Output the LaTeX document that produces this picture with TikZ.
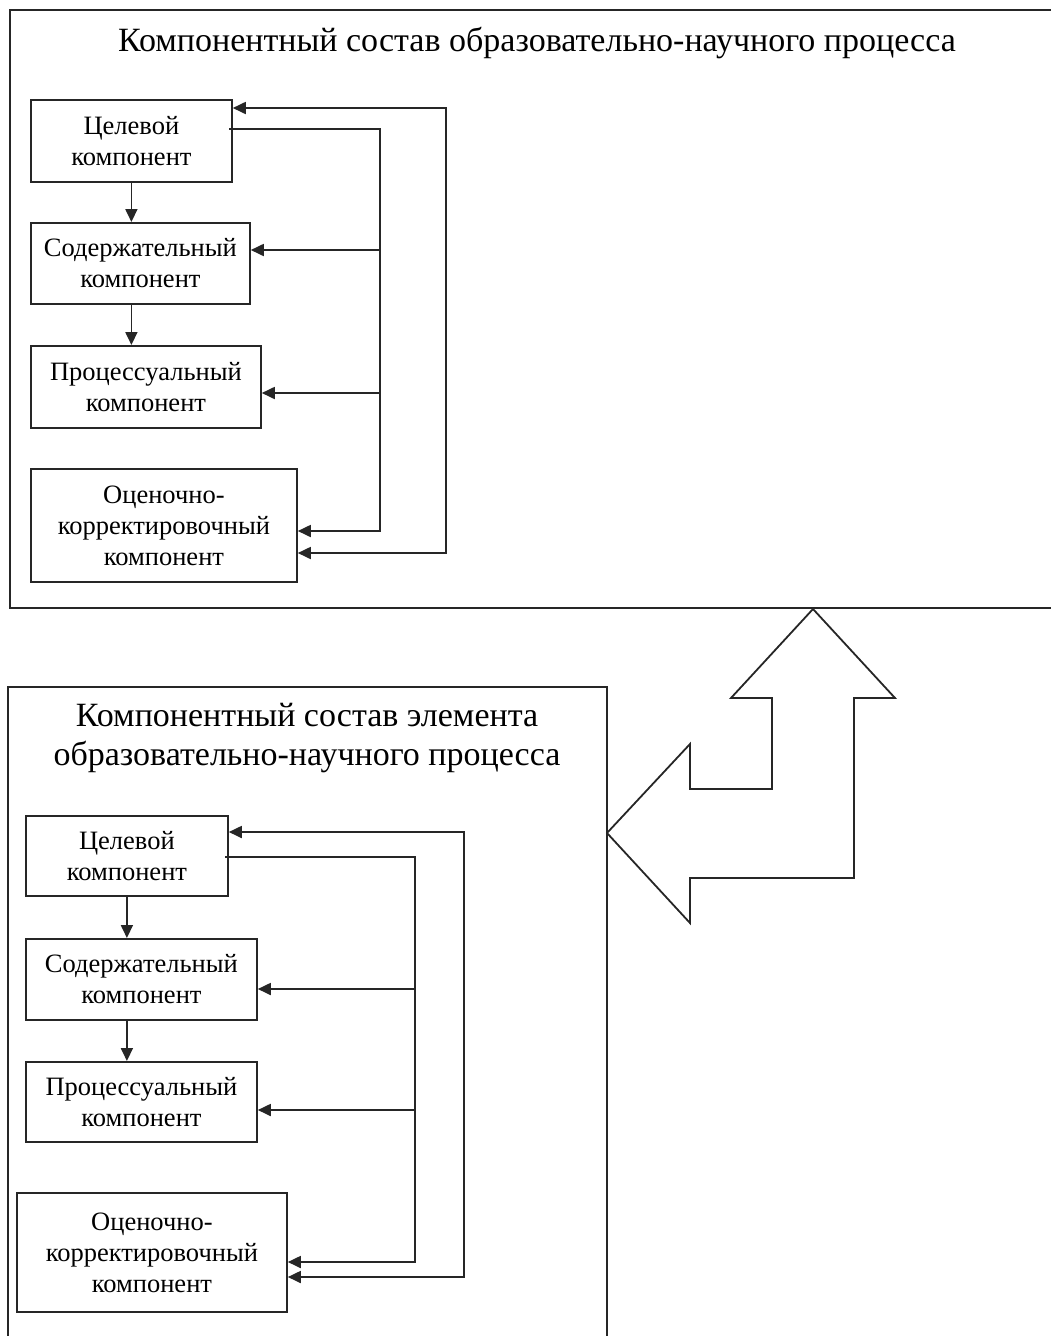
\documentclass[tikz,border=0pt]{standalone}
\usepackage{fontspec}
\setmainfont{Liberation Serif}
\usetikzlibrary{arrows.meta,calc}
\begin{document}
\begin{tikzpicture}[x=1pt,y=-1pt,
  ln/.style={line width=1.8pt, draw=black!85},
  cbox/.style={ln, rectangle, align=center, anchor=north west, inner sep=0pt, font=\fontsize{26.5}{31}\selectfont},
  arr/.style={ln, -{Triangle[length=13pt,width=12pt]}},
  darr/.style={ln, {Triangle[length=13pt,width=12pt]}-{Triangle[length=13pt,width=12pt]}},
  ttl/.style={align=center, inner sep=0pt, font=\fontsize{34}{39}\selectfont},
]
\useasboundingbox (0,0) rectangle (1051,1336);

% ---------- upper frame ----------
\draw[ln] (1051,10) -- (10,10) -- (10,608) -- (1051,608);
\node[ttl] (title1) at (537,43) {Компонентный состав образовательно-научного процесса};

\node[cbox, minimum width=201pt, minimum height=82pt] (t1) at (30,99) {Целевой\\компонент};
\node[cbox, minimum width=219pt, minimum height=81pt] (t2) at (30,222) {Содержательный\\компонент};
\node[cbox, minimum width=230pt, minimum height=82pt] (t3) at (30,345) {Процессуальный\\компонент};
\node[cbox, minimum width=266pt, minimum height=113pt] (t4) at (30,468) {Оценочно-\\корректировочный\\компонент};

\draw[arr] (t1.south) -- (t1.south |- t2.north);
\draw[arr] (t2.south -| t1.south) -- (t1.south |- t3.north);

\coordinate (a0) at (229,129);
\coordinate (a1) at (380,129);
\coordinate (a2) at (380,250);
\coordinate (a3) at (380,393);
\coordinate (a4) at (380,531);
\draw[arr] (a0) -- (a1) -- (a4) -- (t4.east |- a4);
\draw[arr] (a2) -- (t2.east |- a2);
\draw[arr] (a3) -- (t3.east |- a3);

\coordinate (b1) at (446,108);
\coordinate (b2) at (446,553);
\draw[darr] (t1.east |- b1) -- (b1) -- (b2) -- (t4.east |- b2);

% ---------- lower frame ----------
\draw[ln] (8,1336) -- (8,687) -- (607,687) -- (607,1336);
\node[ttl] (title2) at (307,738) {Компонентный состав элемента\\образовательно-научного процесса};

\node[cbox, minimum width=202pt, minimum height=80pt] (s1) at (25,815) {Целевой\\компонент};
\node[cbox, minimum width=231pt, minimum height=81pt] (s2) at (25,938) {Содержательный\\компонент};
\node[cbox, minimum width=231pt, minimum height=80pt] (s3) at (25,1061) {Процессуальный\\компонент};
\node[cbox, minimum width=270pt, minimum height=119pt] (s4) at (16,1192) {Оценочно-\\корректировочный\\компонент};

\draw[arr] (s1.south) -- (s1.south |- s2.north);
\draw[arr] (s2.south -| s1.south) -- (s1.south |- s3.north);

\coordinate (c0) at (225,857);
\coordinate (c1) at (415,857);
\coordinate (c2) at (415,989);
\coordinate (c3) at (415,1110);
\coordinate (c4) at (415,1262);
\draw[arr] (c0) -- (c1) -- (c4) -- (s4.east |- c4);
\draw[arr] (c2) -- (s2.east |- c2);
\draw[arr] (c3) -- (s3.east |- c3);

\coordinate (d1) at (464,832);
\coordinate (d2) at (464,1277);
\draw[darr] (s1.east |- d1) -- (d1) -- (d2) -- (s4.east |- d2);

% ---------- double-bent block arrow ----------
\draw[ln, line join=miter] (813,609) -- (895,698) -- (854,698) -- (854,878) -- (690,878) -- (690,923)
  -- (607,833) -- (690,744) -- (690,789) -- (772,789) -- (772,698) -- (731,698) -- cycle;
\end{tikzpicture}
\end{document}
